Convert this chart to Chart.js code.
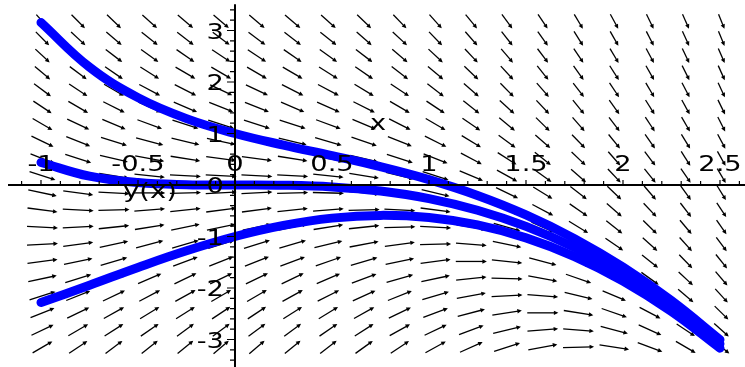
<!DOCTYPE html>
<html>
<head>
<meta charset="utf-8">
<script src="https://cdn.jsdelivr.net/npm/chart.js@4.4.1/dist/chart.umd.min.js"></script>
<style>
html,body{margin:0;padding:0;background:#fff;}
#wrap{width:745px;height:367px;position:relative;}
</style>
</head>
<body>
<div id="wrap"><canvas id="c" width="745" height="367"></canvas></div>
<script>
// ---- data ----
const curveX = [-1, -0.75, -0.5, -0.25, 0, 0.25, 0.5, 0.75, 1, 1.25, 1.5, 1.75, 2, 2.25, 2.5];
const curveTop = [3.155, 2.288, 1.696, 1.289, 1.0, 0.774, 0.570, 0.355, 0.104, -0.203, -0.581, -1.041, -1.594, -2.246, -3.004];
const curveMid = [0.437, 0.171, 0.047, 0.006, 0.0, -0.005, -0.037, -0.118, -0.264, -0.490, -0.804, -1.215, -1.729, -2.352, -3.086];
const curveLow = [-2.282, -1.946, -1.601, -1.278, -1.0, -0.784, -0.643, -0.590, -0.632, -0.776, -1.027, -1.389, -1.865, -2.457, -3.168];

// direction-field grid (20 x 20) and slope at each grid point (rows bottom -> top)
const fieldX = [-1.0, -0.8158, -0.6316, -0.4474, -0.2632, -0.0789, 0.1053, 0.2895, 0.4737, 0.6579,
                0.8421, 1.0263, 1.2105, 1.3947, 1.5789, 1.7632, 1.9474, 2.1316, 2.3158, 2.5];
const fieldY = [-3.168, -2.835, -2.502, -2.170, -1.837, -1.504, -1.171, -0.838, -0.505, -0.173,
                0.160, 0.493, 0.826, 1.159, 1.492, 1.824, 2.157, 2.490, 2.823, 3.155];
const slopes = [
 [2.2, 2.5, 2.8, 3.0, 3.1, 3.2, 3.2, 3.1, 2.9, 2.7, 2.5, 2.1, 1.7, 1.2, 0.7, 0.1, -0.6, -1.4, -2.2, -3.1],
 [1.8, 2.2, 2.4, 2.6, 2.8, 2.8, 2.8, 2.8, 2.6, 2.4, 2.1, 1.8, 1.4, 0.9, 0.3, -0.3, -1.0, -1.7, -2.5, -3.4],
 [1.5, 1.8, 2.1, 2.3, 2.4, 2.5, 2.5, 2.4, 2.3, 2.1, 1.8, 1.4, 1.0, 0.6, 0.0, -0.6, -1.3, -2.0, -2.9, -3.7],
 [1.2, 1.5, 1.8, 2.0, 2.1, 2.2, 2.2, 2.1, 1.9, 1.7, 1.5, 1.1, 0.7, 0.2, -0.3, -0.9, -1.6, -2.4, -3.2, -4.1],
 [0.8, 1.2, 1.4, 1.6, 1.8, 1.8, 1.8, 1.8, 1.6, 1.4, 1.1, 0.8, 0.4, -0.1, -0.7, -1.3, -2.0, -2.7, -3.5, -4.4],
 [0.5, 0.8, 1.1, 1.3, 1.4, 1.5, 1.5, 1.4, 1.3, 1.1, 0.8, 0.5, 0.0, -0.4, -1.0, -1.6, -2.3, -3.0, -3.9, -4.7],
 [0.2, 0.5, 0.8, 1.0, 1.1, 1.2, 1.2, 1.1, 0.9, 0.7, 0.5, 0.1, -0.3, -0.8, -1.3, -1.9, -2.6, -3.4, -4.2, -5.1],
 [-0.2, 0.2, 0.4, 0.6, 0.8, 0.8, 0.8, 0.8, 0.6, 0.4, 0.1, -0.2, -0.6, -1.1, -1.7, -2.3, -3.0, -3.7, -4.5, -5.4],
 [-0.5, -0.2, 0.1, 0.3, 0.4, 0.5, 0.5, 0.4, 0.3, 0.1, -0.2, -0.5, -1.0, -1.4, -2.0, -2.6, -3.3, -4.0, -4.9, -5.7],
 [-0.8, -0.5, -0.2, 0.0, 0.1, 0.2, 0.2, 0.1, -0.1, -0.3, -0.5, -0.9, -1.3, -1.8, -2.3, -2.9, -3.6, -4.4, -5.2, -6.1],
 [-1.2, -0.8, -0.6, -0.4, -0.2, -0.2, -0.2, -0.2, -0.4, -0.6, -0.9, -1.2, -1.6, -2.1, -2.7, -3.3, -4.0, -4.7, -5.5, -6.4],
 [-1.5, -1.2, -0.9, -0.7, -0.6, -0.5, -0.5, -0.6, -0.7, -0.9, -1.2, -1.5, -2.0, -2.4, -3.0, -3.6, -4.3, -5.0, -5.9, -6.7],
 [-1.8, -1.5, -1.2, -1.0, -0.9, -0.8, -0.8, -0.9, -1.1, -1.3, -1.5, -1.9, -2.3, -2.8, -3.3, -3.9, -4.6, -5.4, -6.2, -7.1],
 [-2.2, -1.8, -1.6, -1.4, -1.2, -1.2, -1.2, -1.2, -1.4, -1.6, -1.9, -2.2, -2.6, -3.1, -3.7, -4.3, -5.0, -5.7, -6.5, -7.4],
 [-2.5, -2.2, -1.9, -1.7, -1.6, -1.5, -1.5, -1.6, -1.7, -1.9, -2.2, -2.5, -3.0, -3.4, -4.0, -4.6, -5.3, -6.0, -6.9, -7.7],
 [-2.8, -2.5, -2.2, -2.0, -1.9, -1.8, -1.8, -1.9, -2.0, -2.3, -2.5, -2.9, -3.3, -3.8, -4.3, -4.9, -5.6, -6.4, -7.2, -8.1],
 [-3.2, -2.8, -2.6, -2.4, -2.2, -2.2, -2.2, -2.2, -2.4, -2.6, -2.9, -3.2, -3.6, -4.1, -4.7, -5.3, -5.9, -6.7, -7.5, -8.4],
 [-3.5, -3.2, -2.9, -2.7, -2.6, -2.5, -2.5, -2.6, -2.7, -2.9, -3.2, -3.5, -4.0, -4.4, -5.0, -5.6, -6.3, -7.0, -7.9, -8.7],
 [-3.8, -3.5, -3.2, -3.0, -2.9, -2.8, -2.8, -2.9, -3.0, -3.3, -3.5, -3.9, -4.3, -4.8, -5.3, -5.9, -6.6, -7.4, -8.2, -9.1],
 [-4.2, -3.8, -3.6, -3.4, -3.2, -3.2, -3.2, -3.2, -3.4, -3.6, -3.9, -4.2, -4.6, -5.1, -5.6, -6.3, -6.9, -7.7, -8.5, -9.4]
];

const xTickValues = [-1, -0.5, 0, 0.5, 1, 1.5, 2, 2.5];
const xTickLabels = ["-1", "-0.5", "0", "0.5", "1", "1.5", "2", "2.5"];
const yTickValues = [-3, -2, -1, 0, 1, 2, 3];
const yTickLabels = ["-3", "-2", "-1", "0", "1", "2", "3"];
const xAxisTitle = "x";
const yAxisTitle = "y(x)";

// ---- view ----
const X_MIN = -1.2113, X_MAX = 2.6289, Y_MIN = -3.534, Y_MAX = 3.592;
const AXIS_X_FROM = -1.17, AXIS_X_TO = 2.63, AXIS_Y_FROM = -3.56, AXIS_Y_TO = 3.51;
const ARROW = 0.87;
const FONT = '21px "DejaVu Sans"';
const STRETCH = 1.3;

function pts(ys) { return curveX.map((x, i) => ({x: x, y: ys[i]})); }

function stretchedText(ctx, str, x, y, align) {
  ctx.save();
  ctx.translate(x, y);
  ctx.scale(STRETCH, 1);
  ctx.textAlign = align;
  ctx.textBaseline = 'middle';
  ctx.fillText(str, 0, 0);
  ctx.restore();
}

const fieldPlugin = {
  id: 'field',
  beforeDatasetsDraw(chart) {
    const ctx = chart.ctx, sx = chart.scales.x, sy = chart.scales.y;
    const gx = sx.getPixelForValue(fieldX[1]) - sx.getPixelForValue(fieldX[0]);
    const gy = sy.getPixelForValue(fieldY[0]) - sy.getPixelForValue(fieldY[1]);
    const dxu = fieldX[1] - fieldX[0], dyu = fieldY[1] - fieldY[0];
    ctx.save();
    ctx.strokeStyle = '#000';
    ctx.fillStyle = '#000';
    ctx.lineWidth = 1.3;
    ctx.lineCap = 'butt';
    for (let j = 0; j < fieldY.length; j++) {
      for (let i = 0; i < fieldX.length; i++) {
        const s = slopes[j][i];
        let a = 1 / dxu, b = s / dyu;
        const n = Math.hypot(a, b); a /= n; b /= n;
        const px = a * gx * ARROW, py = -b * gy * ARROW;
        const cx = sx.getPixelForValue(fieldX[i]) + 1.5, cy = sy.getPixelForValue(fieldY[j]) - 1;
        const x0 = cx - px / 2, y0 = cy - py / 2, x1 = cx + px / 2, y1 = cy + py / 2;
        const len = Math.hypot(px, py), ux = px / len, uy = py / len;
        ctx.beginPath();
        ctx.moveTo(x0, y0);
        ctx.lineTo(x1 - ux * 2, y1 - uy * 2);
        ctx.stroke();
        const hl = 4.5, hw = 2.2;
        ctx.beginPath();
        ctx.moveTo(x1, y1);
        ctx.lineTo(x1 - ux * hl - uy * hw, y1 - uy * hl + ux * hw);
        ctx.lineTo(x1 - ux * hl + uy * hw, y1 - uy * hl - ux * hw);
        ctx.closePath();
        ctx.fill();
      }
    }
    ctx.restore();
  },
  afterDatasetsDraw(chart) {
    const ctx = chart.ctx, sx = chart.scales.x, sy = chart.scales.y;
    const ox = sx.getPixelForValue(0), oy = sy.getPixelForValue(0);
    ctx.save();
    ctx.strokeStyle = '#000';
    ctx.fillStyle = '#000';
    ctx.lineWidth = 2;
    ctx.beginPath();
    ctx.moveTo(sx.getPixelForValue(AXIS_X_FROM), oy);
    ctx.lineTo(sx.getPixelForValue(AXIS_X_TO), oy);
    ctx.moveTo(ox, sy.getPixelForValue(AXIS_Y_TO));
    ctx.lineTo(ox, sy.getPixelForValue(AXIS_Y_FROM));
    ctx.stroke();
    ctx.lineWidth = 1.2;
    ctx.beginPath();
    for (let k = -11; k <= 26; k++) {
      const p = sx.getPixelForValue(k / 10);
      const h = (k % 5 === 0) ? 5 : 4;
      ctx.moveTo(p, oy);
      ctx.lineTo(p, oy - h);
    }
    for (let k = -17; k <= 17; k++) {
      const p = sy.getPixelForValue(k / 5);
      const w = (k % 5 === 0) ? 8 : 5;
      ctx.moveTo(ox, p);
      ctx.lineTo(ox - w, p);
    }
    ctx.stroke();
    ctx.font = FONT;
    xTickValues.forEach((v, i) => {
      stretchedText(ctx, xTickLabels[i], sx.getPixelForValue(v), oy - 19, 'center');
    });
    yTickValues.forEach((v, i) => {
      stretchedText(ctx, yTickLabels[i], ox - 11, sy.getPixelForValue(v) + 3, 'right');
    });
    stretchedText(ctx, xAxisTitle, sx.getPixelForValue(0.737), sy.getPixelForValue(1.17), 'center');
    stretchedText(ctx, yAxisTitle, sx.getPixelForValue(-0.438), sy.getPixelForValue(-0.14), 'center');
    ctx.restore();
  }
};

const lineStyle = {
  borderColor: '#0000ff',
  borderWidth: 9,
  pointRadius: 0,
  fill: false,
  tension: 0.4,
  borderCapStyle: 'round',
  borderJoinStyle: 'round'
};

new Chart(document.getElementById('c'), {
  type: 'line',
  data: {
    datasets: [
      Object.assign({label: 'y(0)=1', data: pts(curveTop)}, lineStyle),
      Object.assign({label: 'y(0)=0', data: pts(curveMid)}, lineStyle),
      Object.assign({label: 'y(0)=-1', data: pts(curveLow)}, lineStyle)
    ]
  },
  options: {
    responsive: false,
    animation: false,
    devicePixelRatio: 1,
    layout: {padding: 0},
    plugins: {legend: {display: false}, tooltip: {enabled: false}},
    scales: {
      x: {type: 'linear', min: X_MIN, max: X_MAX, display: false},
      y: {type: 'linear', min: Y_MIN, max: Y_MAX, display: false}
    }
  },
  plugins: [fieldPlugin]
});
</script>
</body>
</html>
